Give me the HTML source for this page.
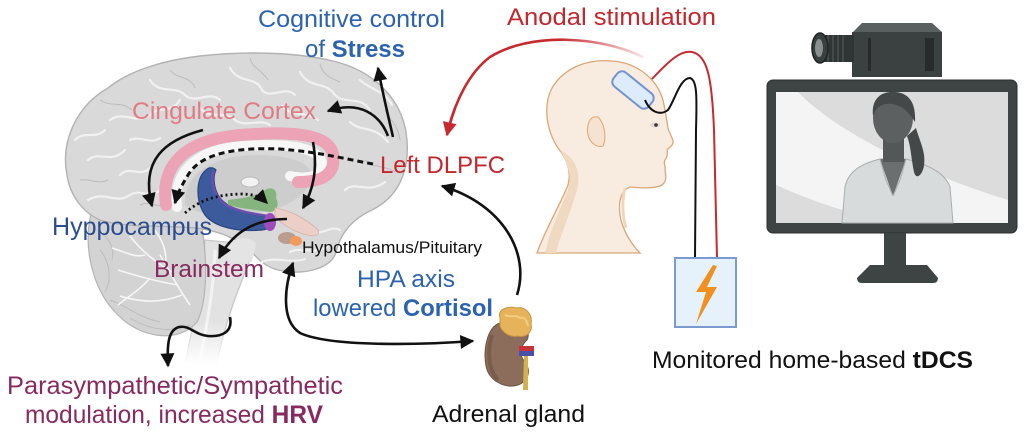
<!DOCTYPE html>
<html><head><meta charset="utf-8">
<style>
html,body{margin:0;padding:0;background:#fff;}
svg{display:block;}
text{font-family:"Liberation Sans",Arial,sans-serif;}
</style></head>
<body>
<svg width="1024" height="436" viewBox="0 0 1024 436" xmlns="http://www.w3.org/2000/svg">
<defs>
  <marker id="ah" viewBox="0 0 10 10" refX="9" refY="5" markerUnits="userSpaceOnUse" markerWidth="15" markerHeight="14" orient="auto-start-reverse">
    <path d="M0,0 L10,5 L0,10 z" fill="#111"/>
  </marker>
  <marker id="ahr" viewBox="0 0 10 10" refX="9" refY="5" markerUnits="userSpaceOnUse" markerWidth="15" markerHeight="14" orient="auto">
    <path d="M0,0 L10,5 L0,10 z" fill="#c62a2f"/>
  </marker>
  <linearGradient id="redfade" gradientUnits="userSpaceOnUse" x1="645" y1="0" x2="560" y2="0">
    <stop offset="0" stop-color="#c62a2f" stop-opacity="0.1"/>
    <stop offset="1" stop-color="#c62a2f" stop-opacity="1"/>
  </linearGradient>
  <linearGradient id="bsfade" gradientUnits="userSpaceOnUse" x1="0" y1="320" x2="0" y2="364">
    <stop offset="0" stop-color="#fff" stop-opacity="0"/>
    <stop offset="1" stop-color="#fff" stop-opacity="1"/>
  </linearGradient>
</defs>

<!-- ============ BRAIN ============ -->
<!-- brainstem -->
<path d="M205,240 C203,275 195,315 185,364 L217,364 C225,320 240,285 256,245 Z" fill="#e2e2e2" stroke="#c4c4c4" stroke-width="1.2"/>
<path d="M215,250 C214,285 208,320 200,360" fill="none" stroke="#f3f3f3" stroke-width="3"/>
<rect x="175" y="320" width="60" height="46" fill="url(#bsfade)"/>
<!-- cerebellum -->
<path d="M92,210 C82,245 92,290 118,315 C140,338 178,344 197,322 C208,300 207,258 202,228 Z" fill="#d3d3d3" stroke="#b4b4b4" stroke-width="1.2"/>
<g fill="none" stroke="#bdbdbd" stroke-width="1">
  <path d="M100,250 C110,262 112,280 105,292"/>
  <path d="M110,300 C125,305 140,318 160,322"/>
  <path d="M130,318 C150,330 170,333 190,325"/>
  <path d="M98,230 C108,238 115,245 112,260"/>
</g>
<g fill="none" stroke="#f6f6f6" stroke-width="1.6">
  <path d="M190,305 C178,288 170,272 160,255"/>
  <path d="M178,285 C160,282 140,277 118,270"/>
  <path d="M172,272 C156,262 142,252 130,236"/>
  <path d="M182,295 C162,303 142,303 120,296"/>
  <path d="M166,262 C166,246 160,236 150,224"/>
  <path d="M150,278 C140,290 130,295 118,305"/>
  <path d="M145,255 C135,258 125,252 112,248"/>
</g>
<!-- cerebrum -->
<path d="M67,175 C60,140 78,105 108,88 C130,70 165,60 200,56 C245,51 295,52 333,61 C372,70 400,97 406,132 C411,165 402,195 372,210 C350,220 340,235 336,252 C332,268 305,276 278,270 C262,266 255,255 245,245 C230,236 215,230 195,228 C160,225 125,228 100,220 C82,212 70,195 67,175 Z" fill="#d9d9d9" stroke="#b2b2b2" stroke-width="1.4"/>
<!-- sulci highlights -->
<g fill="none" stroke="#f1f1f1" stroke-width="2.2" stroke-linecap="round">
  <path d="M110,120 C125,110 135,125 150,115 C160,105 170,115 180,100"/>
  <path d="M88,160 C100,150 110,165 125,150"/>
  <path d="M150,80 C160,95 175,85 185,95 C195,105 210,90 220,100"/>
  <path d="M230,68 C240,85 255,75 262,90 C270,100 285,85 295,95"/>
  <path d="M300,72 C310,90 325,80 335,95 C345,105 360,95 370,110"/>
  <path d="M350,122 C360,132 375,125 388,142"/>
  <path d="M88,200 C105,190 115,205 130,195 C140,188 150,200 160,190"/>
  <path d="M75,140 C85,130 95,140 105,130"/>
  <path d="M345,190 C355,180 368,195 385,182"/>
  <path d="M290,252 C300,246 315,256 328,246"/>
  <path d="M262,262 C275,256 290,264 305,259"/>
  <path d="M120,175 C130,165 140,178 150,168"/>
  <path d="M200,108 C210,120 225,110 235,120 C245,128 260,118 270,125"/>
  <path d="M282,106 C292,118 305,110 318,120"/>
  <path d="M360,80 C370,90 385,90 392,105"/>
  <path d="M130,140 C140,135 150,145 160,138"/>
  <path d="M340,230 C330,225 325,235 312,232"/>
</g>
<g fill="none" stroke="#bcbcbc" stroke-width="1">
  <path d="M100,100 C112,108 120,100 132,110"/>
  <path d="M170,70 C178,80 190,75 195,88"/>
  <path d="M250,58 C252,68 262,70 268,80"/>
  <path d="M320,64 C322,74 330,78 340,82"/>
  <path d="M385,110 C390,120 398,125 400,140"/>
  <path d="M80,180 C90,178 98,185 108,180"/>
  <path d="M365,160 C372,168 385,165 395,172"/>
  <path d="M140,205 C150,200 160,210 172,204"/>
</g>
<!-- medial inner region -->
<path d="M185,205 C183,172 215,156 255,155 C295,155 316,165 311,181 C306,196 286,206 270,211 C240,217 200,218 185,205 Z" fill="#cdcdcd"/>
<!-- corpus callosum -->
<path d="M177,207 C172,170 200,148 245,146 C290,143 322,148 322,165 C322,178 305,179 290,176" fill="none" stroke="#f7f7f7" stroke-width="10" stroke-linecap="round"/>
<!-- cingulate -->
<path d="M166,205 C160,165 185,140 240,135 C290,131 330,133 333,155 C336,176 320,182 298,182" fill="none" stroke="#eba3b5" stroke-width="12" stroke-linecap="round"/>
<ellipse cx="250" cy="182" rx="9" ry="5" fill="#f2f2f2" stroke="#b9b9b9" stroke-width="1"/>
<!-- brainstem top -->
<path d="M228,248 C228,238 250,234 256,244 L252,262 L230,262 Z" fill="#e4e4e4"/>
<!-- hippocampus -->
<path d="M206,170 C196,178 195,200 205,215 C215,228 240,232 262,230 C272,229 275,222 268,217 C250,214 230,210 220,198 C213,188 213,176 216,170 C213,167 209,167 206,170 Z" fill="#3b5b9d" stroke="#2b4580" stroke-width="1.2"/>
<path d="M214,170 C210,182 214,198 228,206 C240,212 255,214 268,216" fill="none" stroke="#6b4fae" stroke-width="2.5"/>
<!-- green -->
<path d="M228,200 C245,198 258,196 265,190 C272,186 278,190 276,198 C280,205 276,212 270,212 C255,210 238,208 228,205 Z" fill="#86b47e"/>
<ellipse cx="270" cy="222" rx="6" ry="9" fill="#9c4bb8"/>
<!-- hypothalamus / pituitary -->
<path d="M275,208 C290,210 308,220 318,230 C321,237 312,237 300,233 C290,229 278,222 275,215 Z" fill="#ecd0c8" stroke="#d8b8b0" stroke-width="1"/>
<ellipse cx="287" cy="238" rx="9" ry="6" fill="#b99d8e"/>
<ellipse cx="296" cy="241" rx="6" ry="5" fill="#f39a5c"/>

<!-- brain arrows -->
<g fill="none" stroke="#111" stroke-width="2.6">
  <path d="M393,137 C388,115 383,95 378,68" marker-end="url(#ah)"/>
  <path d="M388,136 C380,115 360,100 328,111" marker-end="url(#ah)"/>
  <path d="M203,130 C165,140 140,160 152,206" marker-end="url(#ah)"/>
  <path d="M313,142 C318,170 313,190 303,208" marker-end="url(#ah)"/>
  <path d="M287,219 C260,219 235,228 219,258" marker-end="url(#ah)"/>
  <path d="M230,317 C233,332 222,337 208,336 C195,335 190,325 179,327 C168,330 167,345 168,366" marker-end="url(#ah)"/>
</g>
<path d="M373,164 C350,160 320,152 280,149 C230,147 200,155 188,175 C182,185 178,192 175,203" fill="none" stroke="#111" stroke-width="3" stroke-dasharray="6 4" marker-end="url(#ah)"/>
<path d="M185,213 C200,200 215,195 240,194 C252,194 260,196 267,203" fill="none" stroke="#111" stroke-width="2.8" stroke-dasharray="2 3" marker-end="url(#ah)"/>

<!-- HPA arrows -->
<path d="M517,295 C530,255 505,205 442,186" fill="none" stroke="#111" stroke-width="2.6" marker-end="url(#ah)"/>
<path d="M293,263 C285,285 280,320 300,333 C330,347 420,345 473,341" fill="none" stroke="#111" stroke-width="2.6" marker-start="url(#ah)" marker-end="url(#ah)"/>

<!-- ============ ADRENAL ============ -->
<path d="M500,323 C487,327 483,350 486,366 C489,381 505,389 518,385 C529,381 531,370 525,362 C519,356 520,346 527,340 C532,331 521,321 500,323 Z" fill="#8c6c5b" stroke="#6e5447" stroke-width="1"/>
<path d="M492,335 C487,350 488,370 498,380" fill="none" stroke="#7a5c4d" stroke-width="4"/>
<path d="M524,354 L528,354 L528,390 L523,390 Z" fill="#d1b24f"/>
<rect x="519" y="346" width="15" height="5" fill="#c8323a"/>
<rect x="519" y="351" width="15" height="5" fill="#4a4fa8"/>
<path d="M500,318 C497,308 510,306 516,308 C525,306 533,314 531,324 C533,332 526,338 518,336 C510,338 502,332 500,326 Z" fill="#e6b35a" stroke="#c9943d" stroke-width="1"/>
<path d="M505,315 C510,318 515,314 520,318 C525,316 527,322 528,326" fill="none" stroke="#f3cd7e" stroke-width="2"/>

<!-- ============ HEAD ============ -->
<path d="M537,253 C545,230 560,205 568,185 C572,170 566,158 558,148 C546,130 543,105 552,88 C565,66 590,59 612,61 C640,63 660,82 664,105 C666,115 667,122 668,128 C670,135 674,140 673,143 C672,147 668,148 667,150 C668,154 667,157 665,160 C663,163 666,166 665,170 C666,176 667,181 662,185 C655,189 640,188 630,187 C622,190 618,200 620,215 C622,230 632,245 640,253 Z" fill="#f8ece0" stroke="#dba776" stroke-width="1.3"/>
<path d="M560,150 C568,165 572,175 568,190 C560,210 550,230 545,253 L556,253 C562,230 574,205 578,185 C580,170 575,158 560,150 Z" fill="#f0d9c1"/>
<path d="M625,188 C622,200 622,215 626,228" fill="none" stroke="#efd6bd" stroke-width="3"/>
<path d="M598,117 C590,115 586,125 588,135 C590,143 597,148 603,146 C606,140 606,125 598,117 Z" fill="#f5e2d0" stroke="#dba776" stroke-width="1"/>
<ellipse cx="655" cy="125" rx="5" ry="2.5" fill="#e2d8d0"/>
<circle cx="656" cy="125" r="1.8" fill="#333"/>
<!-- electrode -->
<rect x="610.5" y="81" width="45" height="18" rx="6" fill="#dcecfa" stroke="#7592cd" stroke-width="2" transform="rotate(39 633 90)"/>
<!-- wires -->
<path d="M652,79 C668,62 680,50 692,52 C708,55 712,80 714,130 L717,258" fill="none" stroke="#c62a2f" stroke-width="2"/>
<path d="M645,100 C650,112 660,116 668,110 C675,100 680,78 690,78 C697,80 697,95 696,130 L695,258" fill="none" stroke="#111" stroke-width="2"/>
<!-- red stimulation arc -->
<path d="M643,57 C600,36 530,32 490,57 C470,72 455,100 447,135" fill="none" stroke="url(#redfade)" stroke-width="2.6"/>
<path d="M455,108 C452,116 449,126 447,135" fill="none" stroke="#c62a2f" stroke-width="2.6" marker-end="url(#ahr)"/>

<!-- tDCS box -->
<rect x="675" y="258" width="61" height="69" fill="#e6f2fb" stroke="#7b9bd0" stroke-width="2"/>
<polygon points="713,265 696,292 706,292 696,324 717,287 707,287 717,266" fill="#f0901e"/>

<!-- ============ MONITOR ============ -->
<!-- camera -->
<polygon points="853,32 862,23 932,23 942,32" fill="#5a5f5f"/>
<rect x="852" y="32" width="90" height="45" fill="#3b4040"/>
<rect x="925" y="38" width="9" height="33" fill="#272b2b"/>
<rect x="868" y="38" width="3" height="33" fill="#272b2b"/>
<rect x="822" y="35" width="32" height="27" fill="#2f3434"/>
<g stroke="#4a5050" stroke-width="1.5">
  <line x1="828" y1="35" x2="828" y2="62"/>
  <line x1="833" y1="35" x2="833" y2="62"/>
  <line x1="838" y1="35" x2="838" y2="62"/>
  <line x1="843" y1="35" x2="843" y2="62"/>
</g>
<ellipse cx="820" cy="48" rx="8" ry="15" fill="#3a3f3f" stroke="#1e2222" stroke-width="1.5"/>
<ellipse cx="819" cy="48" rx="4" ry="9" fill="#8a9090"/>
<!-- frame -->
<rect x="767" y="80" width="250" height="153" rx="6" fill="#3e4343" stroke="#2a2e2e" stroke-width="1"/>
<rect x="776" y="92" width="232" height="131" fill="#dcdcdc"/>
<path d="M776,92 L798,92 C820,115 880,160 1008,200 L1008,223 L897,223 C850,215 810,200 776,185 Z" fill="#f4f4f4"/>
<!-- person -->
<path d="M842,223 L845,187 C848,172 860,164 880,159 L906,159 C926,164 945,172 950,187 L953,223 Z" fill="#d7dbdb" stroke="#a9adad" stroke-width="1"/>
<path d="M880,159 L893,196 L906,159 Z" fill="#6b6f6f"/>
<path d="M880,159 L886,180 L893,196 M906,159 L900,180 L893,196" fill="none" stroke="#a9adad" stroke-width="1"/>
<rect x="883" y="138" width="21" height="24" fill="#535757"/>
<path d="M916,128 C920,142 926,152 924,166 C922,176 916,180 914,172 C911,158 911,146 907,136 Z" fill="#444848"/>
<ellipse cx="893" cy="118" rx="20" ry="25" fill="#5c6060"/>
<path d="M873,116 C871,98 882,91 895,92 C910,93 916,104 915,122 C908,110 898,102 885,104 C878,106 875,110 873,116 Z" fill="#444848"/>
<!-- stand -->
<rect x="884" y="233" width="22" height="34" fill="#3e4343"/>
<path d="M870,265 L927,265 L938,278 Q938,283 933,283 L862,283 Q857,283 857,278 Z" fill="#3e4343"/>

<!-- ============ TEXT ============ -->
<text x="258" y="27" font-size="24" fill="#2c63ae" textLength="187" lengthAdjust="spacingAndGlyphs">Cognitive control</text>
<text x="305" y="57" font-size="24" fill="#2c63ae" textLength="100" lengthAdjust="spacingAndGlyphs">of <tspan font-weight="bold">Stress</tspan></text>
<text x="507" y="25" font-size="24" fill="#c1272d" textLength="209" lengthAdjust="spacingAndGlyphs">Anodal stimulation</text>
<text x="132" y="119" font-size="24" fill="#e27a83" textLength="184" lengthAdjust="spacingAndGlyphs">Cingulate Cortex</text>
<text x="380" y="173" font-size="24" fill="#c1272d" textLength="125" lengthAdjust="spacingAndGlyphs">Left DLPFC</text>
<text x="52" y="235" font-size="25" fill="#2b4d8f" textLength="160" lengthAdjust="spacingAndGlyphs">Hyppocampus</text>
<text x="154" y="277" font-size="24" fill="#872a60" textLength="110" lengthAdjust="spacingAndGlyphs">Brainstem</text>
<text x="302" y="253" font-size="17" fill="#111" textLength="180" lengthAdjust="spacingAndGlyphs">Hypothalamus/Pituitary</text>
<text x="357" y="287" font-size="24" fill="#2c63ae" textLength="98" lengthAdjust="spacingAndGlyphs">HPA axis</text>
<text x="313" y="316" font-size="24" fill="#2c63ae" textLength="180" lengthAdjust="spacingAndGlyphs">lowered <tspan font-weight="bold">Cortisol</tspan></text>
<text x="7" y="394" font-size="25" fill="#872a60" textLength="336" lengthAdjust="spacingAndGlyphs">Parasympathetic/Sympathetic</text>
<text x="25" y="423" font-size="25" fill="#872a60" textLength="298" lengthAdjust="spacingAndGlyphs">modulation, increased <tspan font-weight="bold">HRV</tspan></text>
<text x="432" y="422" font-size="24" fill="#111" textLength="153" lengthAdjust="spacingAndGlyphs">Adrenal gland</text>
<text x="652" y="368" font-size="24" fill="#111" textLength="321" lengthAdjust="spacingAndGlyphs">Monitored home-based <tspan font-weight="bold">tDCS</tspan></text>
</svg>
</body></html>
